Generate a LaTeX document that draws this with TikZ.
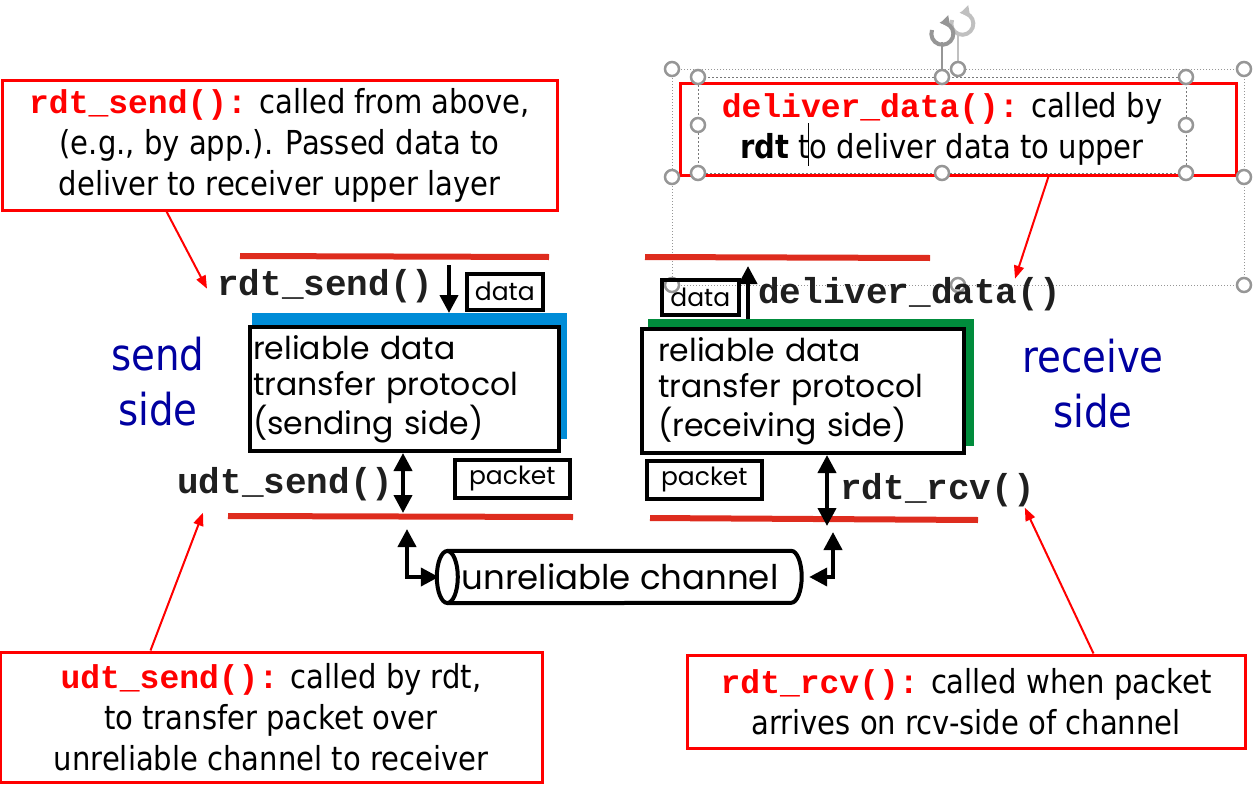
\documentclass[tikz,border=0pt]{standalone}
\usepackage{fontspec}
\usetikzlibrary{arrows.meta}
\newfontfamily\callfont[FakeStretch=0.88]{DejaVu Sans}
\newfontfamily\protofont{Poppins}
\setmonofont{Liberation Mono}
\definecolor{linered}{RGB}{222,44,30}
\definecolor{sendblue}{RGB}{0,140,215}
\definecolor{rcvgreen}{RGB}{0,140,60}
\definecolor{sidenavy}{RGB}{0,0,160}
\definecolor{handlegray}{RGB}{150,150,150}
\newcommand{\fnred}[1]{\textcolor{red}{\ttfamily\bfseries\fontsize{33pt}{41pt}\selectfont #1}}
\tikzset{
  callout/.style={draw=red, line width=3pt, inner sep=0pt, align=center,
    font=\callfont\fontsize{33pt}{41pt}\selectfont},
  callarrow/.style={red, line width=2pt, -{Triangle[length=13pt,width=10pt]}},
  fn/.style={inner sep=0pt, text=black!88, font=\ttfamily\bfseries\fontsize{36pt}{40pt}\selectfont},
  protobox/.style={draw, line width=4pt, fill=white, inner xsep=3pt, inner ysep=0pt,
    minimum height=124pt, align=left, font=\protofont\fontsize{31.5pt}{36.5pt}\selectfont},
  tag/.style={draw, line width=3.5pt, inner sep=0pt, font=\protofont\fontsize{25pt}{28pt}\selectfont},
  layer/.style={linered, line width=6pt},
  flow/.style={line width=4pt, -{Triangle[length=18pt,width=18pt]}},
  flowboth/.style={line width=4pt, {Triangle[length=18pt,width=18pt]}-{Triangle[length=18pt,width=18pt]}},
  pipe/.style={line width=4pt},
  side/.style={text=sidenavy, align=center, font=\callfont\fontsize{44pt}{55pt}\selectfont},
  handle/.style={circle, draw=handlegray, line width=2.5pt, fill=white, minimum size=14pt, inner sep=0pt},
}
\begin{document}
\begin{tikzpicture}[x=1pt, y=-1pt]
  \useasboundingbox (0,0) rectangle (1259,795);

  % callouts
  \node[callout, minimum width=555pt, minimum height=130pt] (callsend) at (279.5,145)
    {\fnred{rdt\_send():} called from above,\\(e.g., by app.). Passed data to\\deliver to receiver upper layer};
  \node[callout, minimum width=542pt, minimum height=130pt] (calludt) at (271,717)
    {\fnred{udt\_send():} called by rdt,\\to transfer packet over\\unreliable channel to receiver};
  \node[callout, minimum width=558pt, minimum height=93pt] (callrcv) at (966,701.5)
    {\fnred{rdt\_rcv():} called when packet\\arrives on rcv-side of channel};

  \draw[handlegray, line width=1pt, dotted] (672,69) rectangle (1244,285);
  \draw[handlegray!80!black, line width=1pt, dash pattern=on 2pt off 2pt] (698,77) rectangle (1186,173);
  \node[callout, minimum width=556pt, minimum height=92pt] (calldeliver) at (958,129)
    {\fnred{deliver\_data():} called by\hspace*{32pt}\\\textbf{rdt} to deliver data to upper\hspace*{32pt}};
  \draw[line width=1pt] (808,123) -- (808,166);

  % selection handles
  \draw[handlegray, line width=1.5pt] (942,77) -- (942,42);
  \draw[handlegray!60, line width=1.5pt] (958,69) -- (958,34);
  \draw[handlegray!60, line width=4pt, -{Triangle[length=9pt,width=12pt]}] (952,20) arc (200:-100:11);
  \draw[handlegray, line width=4pt, -{Triangle[length=9pt,width=12pt]}] (932,30) arc (200:-100:11);
  \node[handle] (h1) at (672,69) {};
  \node[handle] (h2) at (958,69) {};
  \node[handle] (h3) at (1244,69) {};
  \node[handle] (h4) at (672,177) {};
  \node[handle] (h5) at (1244,177) {};
  \node[handle] (h6) at (672,285) {};
  \node[handle] (h7) at (958,285) {};
  \node[handle] (h8) at (1244,285) {};
  \node[handle] (h9) at (698,77) {};
  \node[handle] (h10) at (942,77) {};
  \node[handle] (h11) at (1186,77) {};
  \node[handle] (h12) at (698,125) {};
  \node[handle] (h13) at (1186,125) {};
  \node[handle] (h14) at (698,173) {};
  \node[handle] (h15) at (942,173) {};
  \node[handle] (h16) at (1186,173) {};

  % layer lines
  \draw[layer] (240,256) -- (549,257);
  \draw[layer] (228,516) -- (573,517);
  \draw[layer] (645,257) -- (930,258);
  \draw[layer] (650,518) -- (978,520);

  % sending side
  \node[fill=sendblue, inner sep=0pt, minimum width=315pt, minimum height=126pt, anchor=north west] (sendshade) at (252,313) {};
  \node[protobox, text width=303pt, anchor=north west] (sendbox) at (248,325)
    {reliable data\\transfer protocol\\(sending side)};
  \node[fn, anchor=base west] (rdtsend) at (217,295) {rdt\_send()};
  \node[fn, anchor=base west] (udtsend) at (177,493) {udt\_send()};
  \node[tag, minimum width=76pt, minimum height=36pt, anchor=north west] (senddata) at (465,272) {data};
  \node[tag, minimum width=115pt, minimum height=38pt, anchor=north west] (sendpkt) at (453,458) {packet};
  \node[side] (sendside) at (158,382) {send\\side};

  % receiving side
  \node[fill=rcvgreen, inner sep=0pt, minimum width=326pt, minimum height=127pt, anchor=north west] (rcvshade) at (648,319) {};
  \node[protobox, text width=290pt, anchor=north west, inner xsep=16pt] (rcvbox) at (640,327)
    {reliable data\\transfer protocol\\(receiving side)};
  \node[fn, anchor=base west] (deliver) at (758,303) {deliver\_data()};
  \node[fn, anchor=base west] (rdtrcv) at (840,499) {rdt\_rcv()};
  \node[tag, minimum width=77pt, minimum height=35pt, anchor=north west] (rcvdata) at (660,278) {data};
  \node[tag, minimum width=115pt, minimum height=38pt, anchor=north west] (rcvpkt) at (645,459) {packet};
  \node[side] (rcvside) at (1093,384) {receive\\side};

  % channel
  \node[inner sep=0pt, minimum width=366pt, minimum height=52pt,
    font=\protofont\fontsize{34pt}{40pt}\selectfont] (chan) at (620,577) {unreliable channel};
  \draw[pipe] ([xshift=10.5pt]chan.west) ellipse (10.5 and 26);
  \draw[pipe] ([xshift=10.5pt]chan.north west) -- ([xshift=-12pt]chan.north east)
    arc (-90:90:10.5 and 26) -- ([xshift=10.5pt]chan.south west);

  % flows
  \coordinate (sendin) at (449,265);
  \coordinate (udtx) at (403,513);
  \coordinate (delx) at (748,266);
  \coordinate (rcvx) at (827,526);
  \coordinate (chanl) at (407,529);
  \coordinate (chanr) at (833,532);
  \draw[flow] (sendin) -- (sendin |- sendshade.north);
  \draw[flowboth] (sendbox.south -| udtx) -- (udtx);
  \draw[flow] (delx |- rcvshade.north) -- (delx);
  \draw[flowboth] (rcvbox.south -| rcvx) -- (rcvx);
  \draw[flowboth] (chanl) |- ([xshift=2pt]chan.west);
  \draw[flowboth] (chanr) |- ([xshift=6pt]chan.east);

  % callout arrows
  \draw[callarrow] ([xshift=166pt]callsend.south west) -- ([xshift=-10pt, yshift=-3pt]rdtsend.west);
  \draw[callarrow] ([xshift=152pt]calludt.north west) -- ([xshift=26pt, yshift=-12pt]udtsend.south west);
  \draw[callarrow] ([xshift=370pt]calldeliver.south west) -- ([xshift=257pt, yshift=-2pt]deliver.north west);
  \draw[callarrow] ([xshift=408pt]callrcv.north west) -- ([xshift=-10pt, yshift=-1pt]rdtrcv.south east);
\end{tikzpicture}
\end{document}
